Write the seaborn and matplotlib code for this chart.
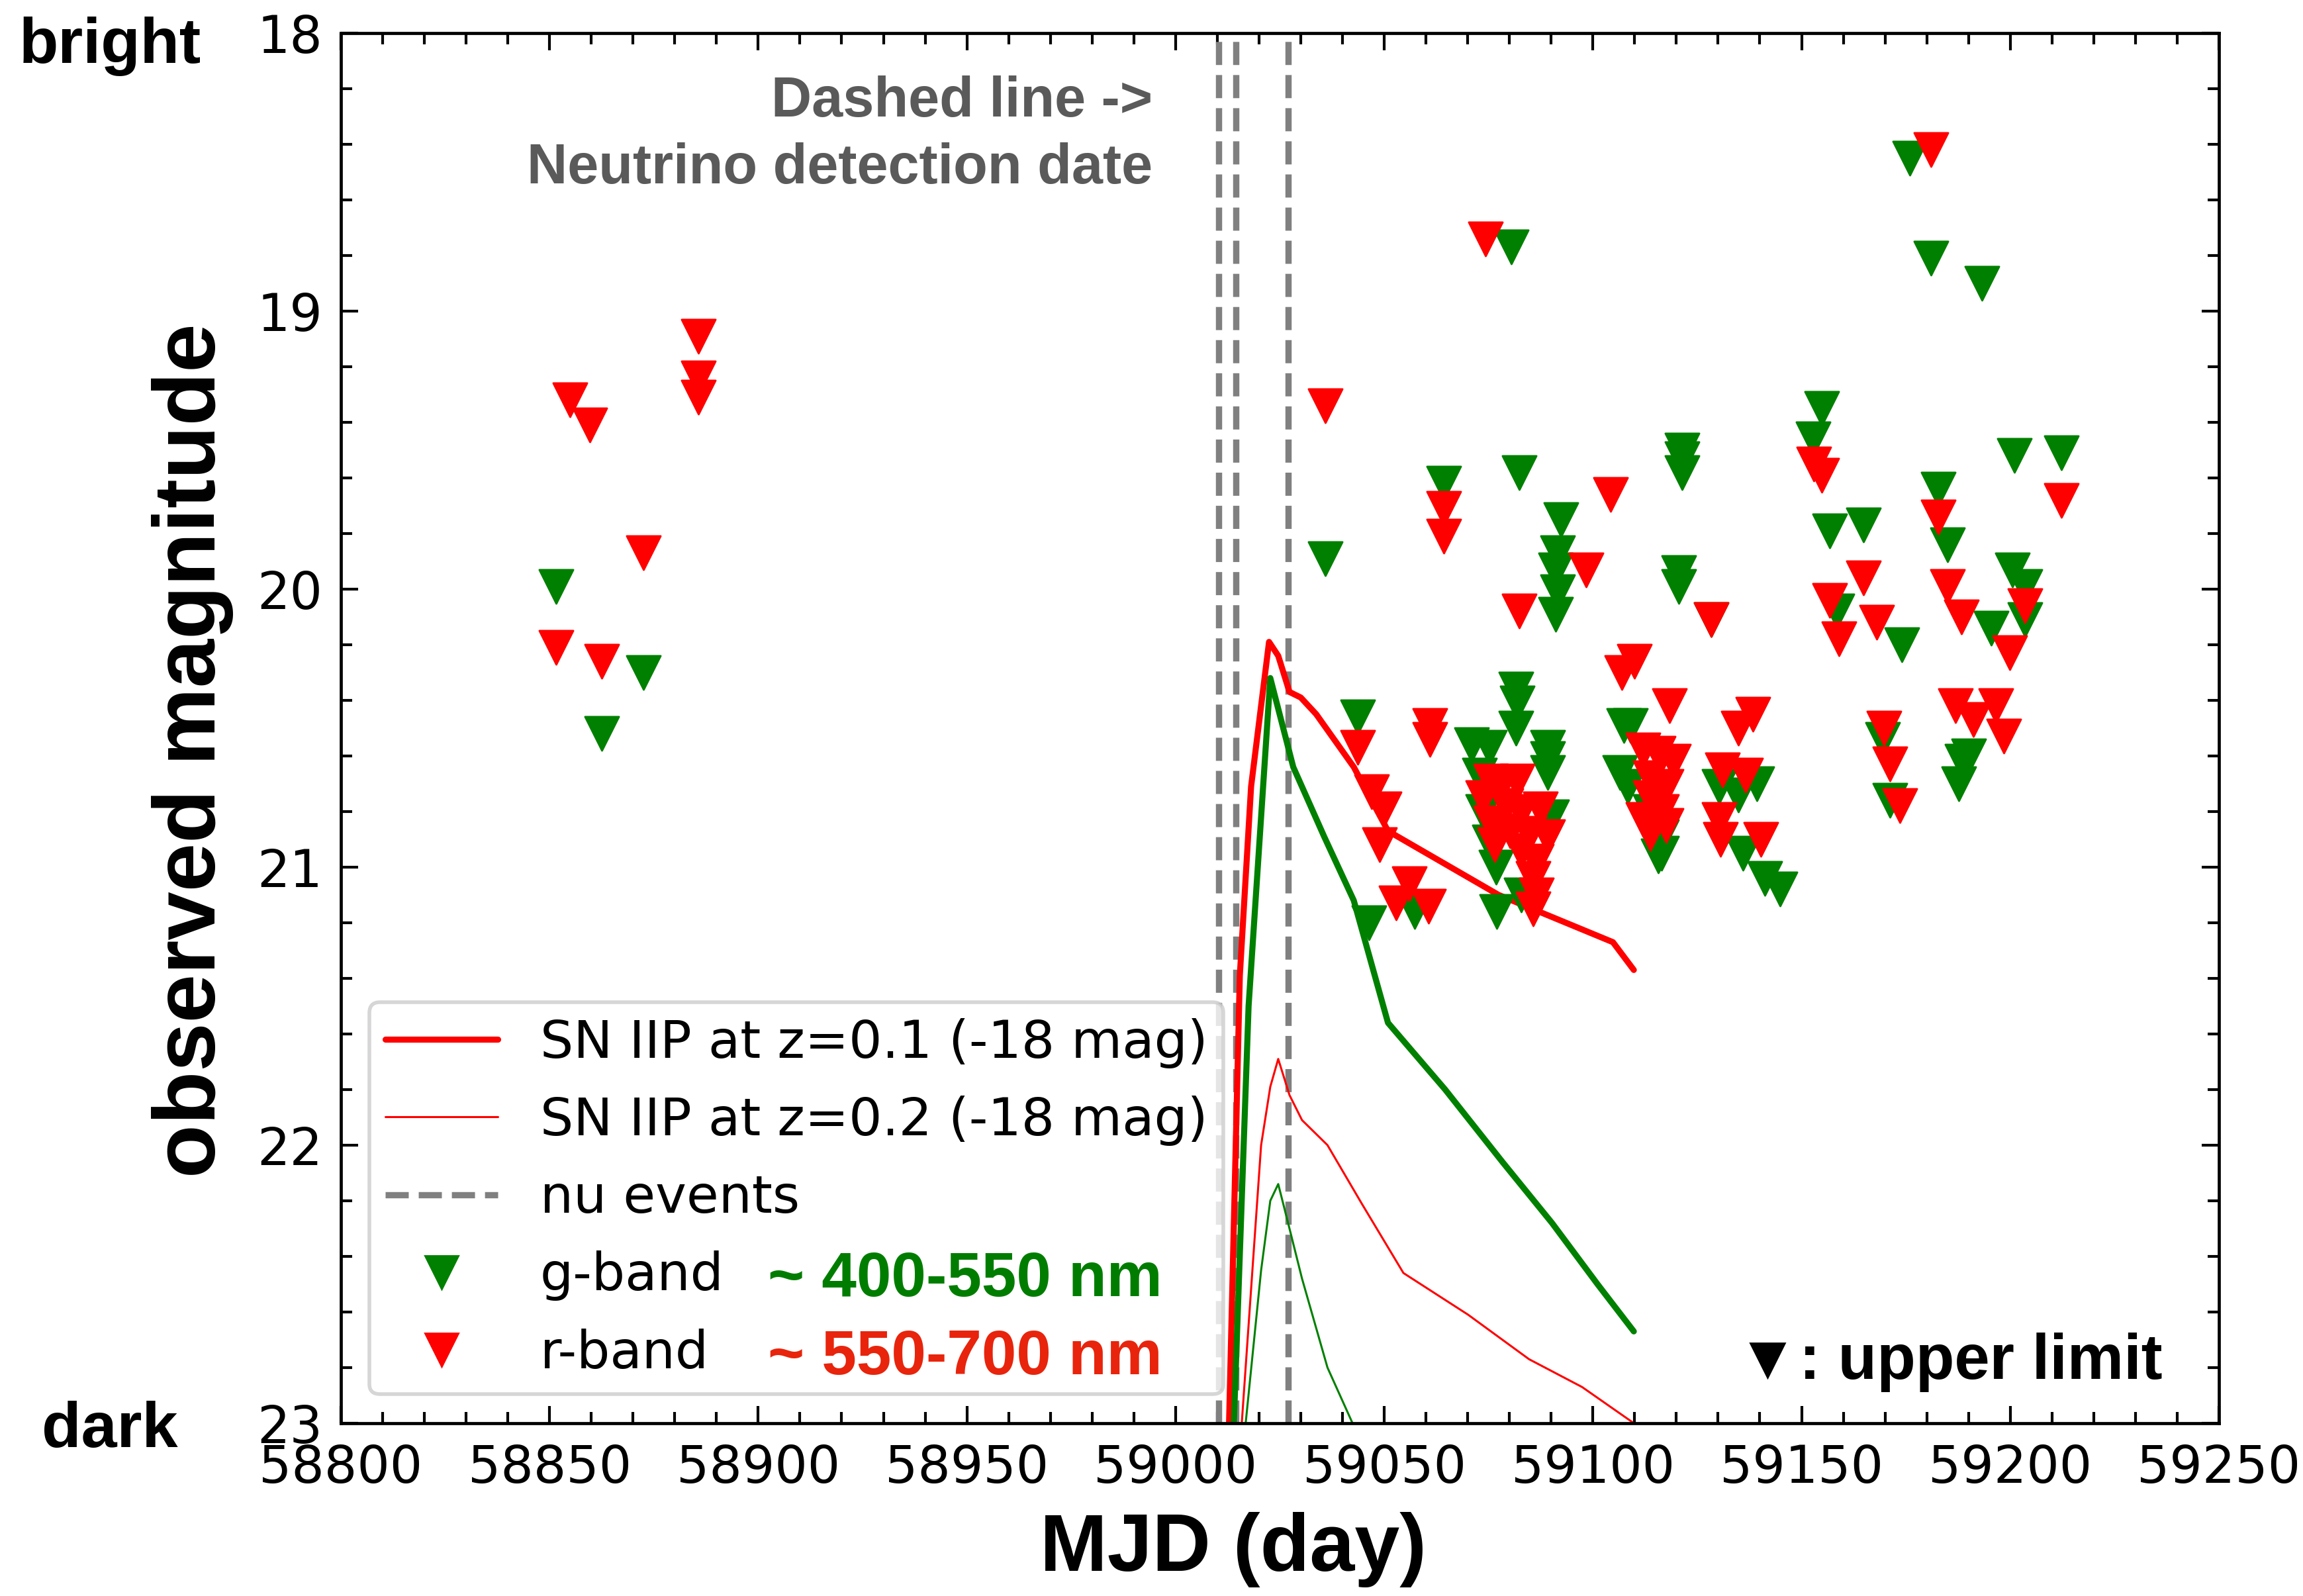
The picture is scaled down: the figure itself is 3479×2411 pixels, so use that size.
import matplotlib
matplotlib.use('Agg')
import matplotlib.pyplot as plt
import seaborn as sns
from matplotlib.lines import Line2D

sns.set_style("ticks")
plt.rcParams['font.family'] = ['DejaVu Sans']
plt.rcParams.update({'text.color': 'black', 'axes.labelcolor': 'black',
                     'xtick.color': 'black', 'ytick.color': 'black'})

# g-band upper limits (MJD, mag)
g_mjd = [58851.6, 58872.5, 58862.5,
         59175.9, 59080.5, 59181.0, 59193.2,
         59035.9, 59154.8, 59152.7, 59201.0, 59212.3,
         59064.3, 59082.4, 59121.4, 59121.4, 59121.4,
         59092.4, 59091.5, 59091.0, 59091.5, 59091.0,
         59120.6, 59120.6, 59128.4, 59156.7, 59164.9,
         59158.5, 59174.0, 59182.7, 59185.0, 59195.5,
         59200.5, 59203.5, 59203.5,
         59081.5, 59081.9, 59081.5, 59043.7, 59109.0, 59107.4,
         59190.0, 59169.4, 59171.2, 59188.5, 59187.6,
         59071.0, 59075.2, 59089.2, 59089.2, 59089.2,
         59072.8, 59073.7, 59075.2, 59076.8, 59077.0,
         59090.1, 59082.8, 59046.4, 59057.3,
         59106.5, 59108.4, 59113.8, 59115.6, 59116.5, 59116.5,
         59130.2, 59134.8, 59139.3, 59136.0, 59141.2, 59144.8]
g_mag = [19.99, 20.30, 20.52,
         18.45, 18.77, 18.81, 18.90,
         19.89, 19.35, 19.46, 19.52, 19.51,
         19.62, 19.58, 19.50, 19.53, 19.58,
         19.75, 19.87, 19.93, 20.01, 20.09,
         19.94, 19.99, 20.11, 19.79, 19.77,
         20.08, 20.20, 19.64, 19.84, 20.14,
         19.93, 19.99, 20.11,
         20.36, 20.41, 20.50, 20.46, 20.49, 20.49,
         20.60, 20.54, 20.76, 20.62, 20.70,
         20.56, 20.57, 20.57, 20.61, 20.66,
         20.67, 20.80, 20.91, 21.00, 21.16,
         20.82, 21.10, 21.20, 21.16,
         20.66, 20.71, 20.80, 20.96, 20.89, 20.95,
         20.71, 20.74, 20.70, 20.95, 21.04, 21.08]

# r-band upper limits (MJD, mag)
r_mjd = [58854.9, 58859.7, 58885.6, 58885.6, 58885.6, 58872.5, 58851.6, 58862.5,
         59181.0, 59074.3, 59035.9, 59152.9, 59154.8, 59212.3,
         59064.3, 59064.3, 59104.3, 59098.4, 59082.4, 59128.4,
         59164.9, 59156.7, 59158.9, 59168.0, 59182.7, 59185.0, 59188.3,
         59203.5, 59199.8,
         59110.0, 59107.0, 59061.0, 59061.0, 59118.4, 59138.4, 59134.8,
         59169.8, 59186.8, 59196.5, 59191.2, 59198.4,
         59043.7, 59047.0, 59050.0, 59048.8, 59056.0, 59052.8, 59060.6,
         59075.6, 59078.3, 59081.9, 59073.7, 59079.2, 59082.8, 59087.4, 59075.6,
         59080.1, 59084.7, 59089.2, 59076.5, 59082.8, 59086.5, 59085.6, 59086.5, 59085.6,
         59112.0, 59115.6, 59119.3, 59113.8, 59117.5, 59113.8, 59116.5, 59112.0, 59117.5, 59113.8,
         59131.1, 59136.6, 59130.2, 59130.6, 59140.2,
         59171.2, 59173.6]
r_mag = [19.32, 19.41, 19.09, 19.24, 19.31, 19.87, 20.21, 20.26,
         18.42, 18.74, 19.34, 19.55, 19.59, 19.68,
         19.71, 19.81, 19.66, 19.93, 20.08, 20.11,
         19.96, 20.04, 20.18, 20.12, 19.74, 19.99, 20.10,
         20.06, 20.23,
         20.26, 20.30, 20.49, 20.54, 20.42, 20.45, 20.50,
         20.50, 20.42, 20.42, 20.47, 20.53,
         20.57, 20.73, 20.79, 20.92, 21.06, 21.13, 21.14,
         20.69, 20.70, 20.69, 20.75, 20.78, 20.80, 20.79, 20.84,
         20.87, 20.88, 20.89, 20.92, 20.94, 20.98, 21.04, 21.10, 21.15,
         20.58, 20.59, 20.62, 20.68, 20.71, 20.75, 20.80, 20.83, 20.85, 20.88,
         20.65, 20.67, 20.83, 20.90, 20.90,
         20.63, 20.78]

# SN IIP template light curves
sn1_r_mjd = [59012.5, 59015.4, 59018.1, 59022.4, 59024.6, 59027.3, 59030.0,
             59033.7, 59042.7, 59050.9, 59077.4, 59104.8, 59109.8]
sn1_r_mag = [23.2, 21.39, 20.71, 20.19, 20.24, 20.37, 20.39,
             20.45, 20.64, 20.87, 21.10, 21.27, 21.37]
sn1_g_mjd = [59013.5, 59017.5, 59022.7, 59028.2, 59035.6, 59042.7,
             59050.9, 59064.6, 59078.3, 59090.2, 59101.1, 59109.8]
sn1_g_mag = [23.2, 21.5, 20.32, 20.64, 20.89, 21.12,
             21.56, 21.80, 22.06, 22.28, 22.50, 22.67]
sn2_r_mjd = [59015.4, 59020.5, 59022.7, 59024.6, 59027.3, 59030.3, 59036.4,
             59044.6, 59054.6, 59070.1, 59084.7, 59097.4, 59109.8]
sn2_r_mag = [23.1, 22.0, 21.79, 21.69, 21.82, 21.91, 22.0,
             22.21, 22.46, 22.61, 22.77, 22.87, 23.0]
sn2_g_mjd = [59016.8, 59020.5, 59022.7, 59024.6, 59027.3, 59030.3, 59036.4, 59042.4]
sn2_g_mag = [23.0, 22.45, 22.2, 22.14, 22.30, 22.48, 22.80, 23.0]

# neutrino detection dates
nu_mjd = [59010.3, 59014.5, 59027.0]

fig = plt.figure(figsize=(17.395, 12.055), dpi=200)
ax = fig.add_axes([0.148, 0.1083, 0.8155, 0.871])

for x in nu_mjd:
    ax.axvline(x, color='gray', linestyle='--', linewidth=3.4, zorder=1)

sns.lineplot(x=sn1_r_mjd, y=sn1_r_mag, sort=False, estimator=None, color='red',
             linewidth=3.3, ax=ax, zorder=2)
sns.lineplot(x=sn1_g_mjd, y=sn1_g_mag, sort=False, estimator=None, color='green',
             linewidth=3.3, ax=ax, zorder=2)
sns.lineplot(x=sn2_r_mjd, y=sn2_r_mag, sort=False, estimator=None, color='red',
             linewidth=1.1, ax=ax, zorder=2)
sns.lineplot(x=sn2_g_mjd, y=sn2_g_mag, sort=False, estimator=None, color='green',
             linewidth=1.1, ax=ax, zorder=2)

sns.scatterplot(x=g_mjd, y=g_mag, marker='v', s=340, color='green',
                edgecolor='green', linewidth=1, ax=ax, zorder=3)
sns.scatterplot(x=r_mjd, y=r_mag, marker='v', s=340, color='red',
                edgecolor='red', linewidth=1, ax=ax, zorder=4)

ax.set_xlim(58800, 59250)
ax.set_ylim(23, 18)
ax.xaxis.set_major_locator(matplotlib.ticker.MultipleLocator(50))
ax.xaxis.set_minor_locator(matplotlib.ticker.MultipleLocator(10))
ax.yaxis.set_major_locator(matplotlib.ticker.MultipleLocator(1))
ax.yaxis.set_minor_locator(matplotlib.ticker.MultipleLocator(0.2))
ax.tick_params(which='both', direction='in', top=True, right=True, width=1.5,
               labelsize=28, color='black', labelcolor='black')
ax.tick_params(which='major', length=9.5)
ax.tick_params(which='minor', length=6)
ax.tick_params(axis='x', pad=11)
ax.tick_params(axis='y', pad=10)
for sp in ax.spines.values():
    sp.set_linewidth(1.7)
    sp.set_color('black')

bold = dict(family=['Liberation Sans', 'DejaVu Sans'], weight='bold')
ax.set_xlabel('MJD (day)', fontsize=44, color='black', **bold)
ax.set_ylabel('observed magnitude', fontsize=47.5, color='black', **bold)
ax.xaxis.set_label_coords(0.475, -0.064)
ax.yaxis.set_label_coords(-0.057, 0.484)

ax.text(-0.123, 0.9786, 'bright', transform=ax.transAxes, ha='center',
        va='baseline', fontsize=35, **bold)
ax.text(-0.123, -0.017, 'dark', transform=ax.transAxes, ha='center',
        va='baseline', fontsize=35, **bold)

ax.text(58994.5, 18.30, 'Dashed line ->', ha='right', va='baseline',
        fontsize=30.5, color='#5a5a5a', **bold)
ax.text(58994.5, 18.54, 'Neutrino detection date', ha='right', va='baseline',
        fontsize=30.5, color='#5a5a5a', **bold)
ax.text(59236.5, 22.84, '\u25bc: upper limit', ha='right', va='baseline',
        fontsize=34.5, color='black', **bold)

handles = [
    Line2D([], [], color='red', linewidth=3.3, label='SN IIP at z=0.1 (-18 mag)'),
    Line2D([], [], color='red', linewidth=1.1, label='SN IIP at z=0.2 (-18 mag)'),
    Line2D([], [], color='gray', linestyle='--', linewidth=3.4, label='nu events'),
    Line2D([], [], color='green', marker='v', markersize=18, linestyle='none',
           label='g-band'),
    Line2D([], [], color='red', marker='v', markersize=18, linestyle='none',
           label='r-band'),
]
leg = ax.legend(handles=handles, loc='lower left', fontsize=28.5, frameon=True,
                fancybox=True, borderpad=0.3, labelspacing=0.52,
                handlelength=2.15, handletextpad=0.8, borderaxespad=0.55,
                edgecolor='#cccccc', framealpha=0.8)
leg.get_frame().set_linewidth(2)

ax.text(58902.4, 22.485, '~ 400-550 nm', ha='left', va='center', fontsize=34,
        color='#007d00', zorder=10, **bold)
ax.text(58902.4, 22.765, '~ 550-700 nm', ha='left', va='center', fontsize=34,
        color='#e8240c', zorder=10, **bold)

fig.savefig('out.png', dpi=200)
